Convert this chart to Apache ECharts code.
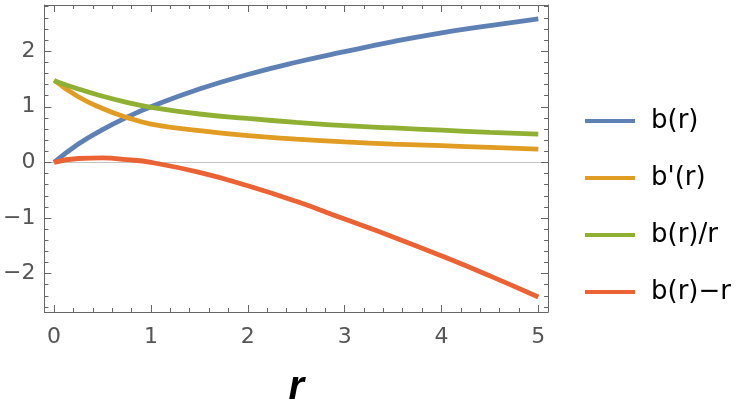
<!DOCTYPE html>
<html>
<head>
<meta charset="utf-8">
<script src="https://cdn.jsdelivr.net/npm/echarts@6/dist/echarts.min.js"></script>
<style>
  html, body { margin: 0; padding: 0; background: #fff; }
  #chart { width: 747px; height: 413px; }
</style>
</head>
<body>
<div id="chart"></div>
<script>
  // values
  var rValues = [0, 0.25, 0.5, 0.75, 1, 1.5, 2, 2.5, 3, 3.5, 4, 4.5, 5];
  var bValues = [0, 0.33, 0.59, 0.81, 1.0, 1.32, 1.58, 1.80, 1.99, 2.17, 2.33, 2.46, 2.58];
  var bPrimeValues = [1.48, 1.18, 0.97, 0.81, 0.69, 0.57, 0.48, 0.42, 0.37, 0.33, 0.30, 0.27, 0.24];
  var bOverRValues = [1.47, 1.32, 1.19, 1.08, 0.99, 0.87, 0.79, 0.72, 0.66, 0.62, 0.58, 0.54, 0.51];
  var bMinusRValues = [0, 0.07, 0.08, 0.05, 0, -0.18, -0.42, -0.70, -1.02, -1.34, -1.68, -2.04, -2.42];

  var seriesNames = ['b(r)', "b'(r)", 'b(r)/r', 'b(r)\u2212r'];
  var xTicks = [0, 1, 2, 3, 4, 5];
  var yTicks = [-2, -1, 0, 1, 2];

  function steps(from, to, step) {
    var out = [];
    for (var v = from; v <= to + 1e-9; v += step) out.push(Math.round(v * 10) / 10);
    return out;
  }
  var xMinor = steps(0, 5, 0.2);
  var yMinor = steps(-2.6, 2.8, 0.2);

  function pairs(ys) {
    return rValues.map(function(r, i) { return [r, ys[i]]; });
  }

  var frameColor = '#666';
  var labelStyle = { color: '#555', fontSize: 22, fontFamily: 'DejaVu Sans' };

  function xAxisDef(position, ticks, len, withLine, withLabels) {
    return {
      type: 'value', position: position, min: -0.1, max: 5.1,
      axisLine: { show: withLine, onZero: false, lineStyle: { color: frameColor, width: 1 } },
      axisTick: { show: true, inside: true, length: len, customValues: ticks,
                  lineStyle: { color: frameColor, width: 1 } },
      axisLabel: withLabels ? Object.assign({ show: true, margin: 14, customValues: ticks }, labelStyle)
                            : { show: false },
      splitLine: { show: false }
    };
  }

  function yAxisDef(position, ticks, len, withLine, withLabels) {
    return {
      type: 'value', position: position, min: -2.69, max: 2.83,
      axisLine: { show: withLine, onZero: false, lineStyle: { color: frameColor, width: 1 } },
      axisTick: { show: true, inside: true, length: len, customValues: ticks,
                  lineStyle: { color: frameColor, width: 1 } },
      axisLabel: withLabels ? Object.assign({
                    show: true, margin: 9, customValues: ticks,
                    formatter: function(v) { return String(v).replace('-', '\u2212'); }
                  }, labelStyle)
                            : { show: false },
      splitLine: { show: false }
    };
  }

  var xAxes = [
    xAxisDef('bottom', xTicks, 7, true, true),
    xAxisDef('bottom', xMinor, 4, false, false),
    xAxisDef('top', xTicks, 7, true, false),
    xAxisDef('top', xMinor, 4, false, false)
  ];
  xAxes[0].name = 'r';
  xAxes[0].nameLocation = 'middle';
  xAxes[0].nameGap = 56;
  xAxes[0].nameTextStyle = { color: '#000', fontSize: 40, fontWeight: 'bold',
                             fontStyle: 'italic', fontFamily: 'Liberation Sans' };

  var yAxes = [
    yAxisDef('left', yTicks, 7, true, true),
    yAxisDef('left', yMinor, 4, false, false),
    yAxisDef('right', yTicks, 7, true, false),
    yAxisDef('right', yMinor, 4, false, false)
  ];

  var colors = ['#5E81B5', '#E19C24', '#8FB032', '#EB6235'];
  var allValues = [bValues, bPrimeValues, bOverRValues, bMinusRValues];

  var series = seriesNames.map(function(name, i) {
    return {
      name: name,
      type: 'line',
      xAxisIndex: 0,
      yAxisIndex: 0,
      smooth: true,
      showSymbol: false,
      symbol: 'none',
      lineStyle: { width: 4.8, color: colors[i] },
      data: pairs(allValues[i])
    };
  });
  // grey zero line under the curves
  series[0].markLine = {
    silent: true, symbol: 'none', z: 0,
    label: { show: false },
    lineStyle: { color: '#c4c4c4', width: 1, type: 'solid' },
    data: [{ yAxis: 0 }]
  };

  var option = {
    animation: false,
    color: colors,
    grid: { left: 37, right: 199, top: 5, bottom: 95 },
    legend: {
      orient: 'vertical',
      left: 580,
      top: 103,
      itemWidth: 50,
      itemHeight: 4,
      itemGap: 31,
      icon: 'rect',
      data: seriesNames,
      textStyle: { color: '#000', fontSize: 26, fontFamily: 'DejaVu Sans', padding: [0, 0, 0, 11] }
    },
    xAxis: xAxes,
    yAxis: yAxes,
    series: series
  };

  var chartInstance = echarts.init(document.getElementById('chart'));
  chartInstance.setOption(option);
</script>
</body>
</html>
